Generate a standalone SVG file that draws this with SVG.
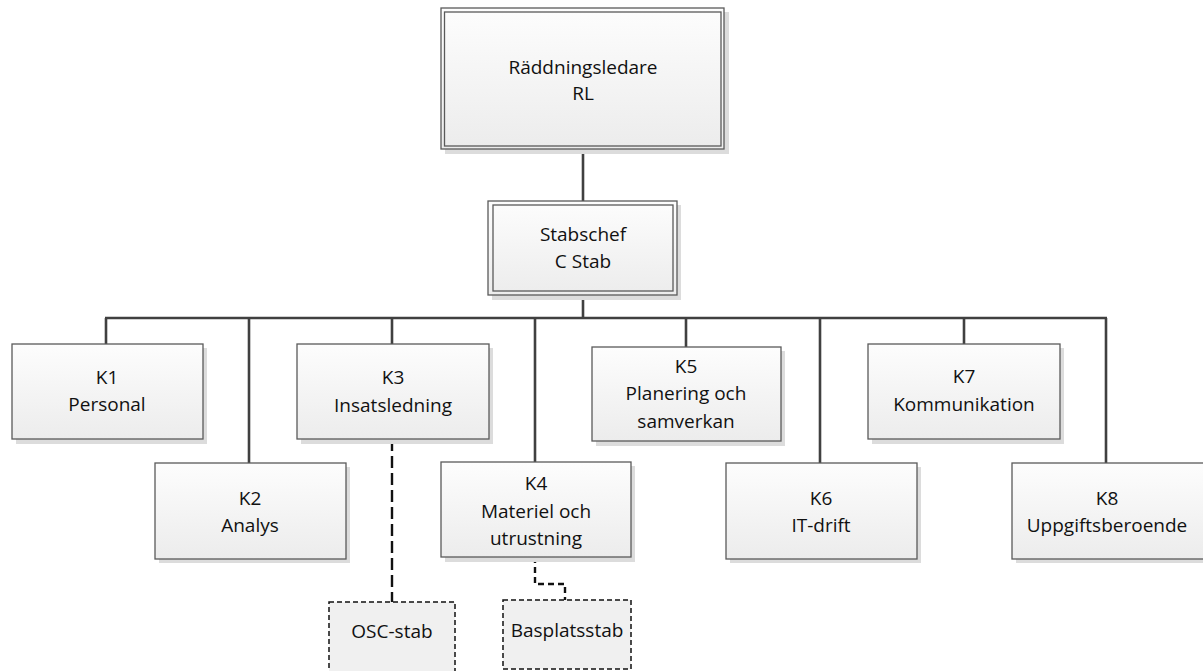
<svg xmlns="http://www.w3.org/2000/svg" width="1203" height="671" viewBox="0 0 1203 671">
<defs>
<linearGradient id="g" x1="0" y1="0" x2="0" y2="1">
<stop offset="0" stop-color="#fdfdfd"/>
<stop offset="1" stop-color="#ececec"/>
</linearGradient>
</defs>
<style>
.sh{fill:#dcdcdc}
.box{fill:url(#g);stroke:#5a5a5a;stroke-width:1.3}
.in{fill:none;stroke:#5a5a5a;stroke-width:1.3}
.dbox{fill:#f0f0f0;stroke:#111;stroke-width:1.5;stroke-dasharray:5 3}
.ln{stroke:#404040;stroke-width:2.6;fill:none}
.dl{stroke:#111;stroke-width:2.4;fill:none}
text{font-family:"Open Sans","Noto Sans",sans-serif;font-size:19px;fill:#111;text-anchor:middle}
</style>
<rect width="1203" height="671" fill="#fff"/>
<g id="connectors">
<line class="ln" x1="583" y1="149" x2="583" y2="201"/>
<line class="ln" x1="583" y1="295" x2="583" y2="318"/>
<line class="ln" x1="105" y1="318" x2="1107" y2="318" stroke-width="3"/>
<line class="ln" x1="106" y1="318" x2="106" y2="344"/>
<line class="ln" x1="249" y1="318" x2="249" y2="463"/>
<line class="ln" x1="392" y1="318" x2="392" y2="344"/>
<line class="ln" x1="535" y1="318" x2="535" y2="462"/>
<line class="ln" x1="686" y1="318" x2="686" y2="347"/>
<line class="ln" x1="820" y1="318" x2="820" y2="463"/>
<line class="ln" x1="964" y1="318" x2="964" y2="344" stroke-width="4"/>
<line class="ln" x1="1106" y1="318" x2="1106" y2="463"/>
<line class="dl" x1="392" y1="439" x2="392" y2="602" stroke-dasharray="12 5"/>
<polyline class="dl" points="535,557 535,584 565,584 565,600" stroke-dasharray="6 4"/>
</g>
<g id="RL">
<rect class="sh" x="445" y="12" width="284" height="142"/>
<rect class="box" x="441" y="8" width="283" height="141"/>
<rect class="in" x="444.5" y="12" width="276.5" height="134"/>
<text x="583" y="74">Räddningsledare</text>
<text x="583" y="100">RL</text>
</g>
<g id="Stabschef">
<rect class="sh" x="492" y="205" width="189" height="95"/>
<rect class="box" x="488" y="201" width="189" height="94"/>
<rect class="in" x="493" y="205" width="180" height="86"/>
<text x="583" y="241">Stabschef</text>
<text x="583" y="268">C Stab</text>
</g>
<g id="K1">
<rect class="sh" x="16" y="348" width="191" height="96"/>
<rect class="box" x="12" y="344" width="191" height="95"/>
<text x="107" y="384">K1</text>
<text x="107" y="411">Personal</text>
</g>
<g id="K2">
<rect class="sh" x="159" y="467" width="191" height="96"/>
<rect class="box" x="155" y="463" width="191" height="96"/>
<text x="250" y="505">K2</text>
<text x="250" y="532">Analys</text>
</g>
<g id="K3">
<rect class="sh" x="301" y="348" width="192" height="96"/>
<rect class="box" x="297" y="344" width="192" height="95"/>
<text x="393" y="384">K3</text>
<text x="393" y="412">Insatsledning</text>
</g>
<g id="K4">
<rect class="sh" x="445" y="466" width="190" height="96"/>
<rect class="box" x="441" y="462" width="190" height="95"/>
<text x="536" y="490">K4</text>
<text x="536" y="518">Materiel och</text>
<text x="536" y="545">utrustning</text>
</g>
<g id="K5">
<rect class="sh" x="596" y="351" width="189" height="95"/>
<rect class="box" x="592" y="347" width="189" height="94"/>
<text x="686" y="373">K5</text>
<text x="686" y="400">Planering och</text>
<text x="686" y="428">samverkan</text>
</g>
<g id="K6">
<rect class="sh" x="730" y="467" width="191" height="96"/>
<rect class="box" x="726" y="463" width="191" height="96"/>
<text x="821" y="505">K6</text>
<text x="821" y="532">IT-drift</text>
</g>
<g id="K7">
<rect class="sh" x="872" y="348" width="192" height="96"/>
<rect class="box" x="868" y="344" width="192" height="95"/>
<text x="964" y="383">K7</text>
<text x="964" y="411">Kommunikation</text>
</g>
<g id="K8">
<rect class="sh" x="1016" y="467" width="191" height="96"/>
<rect class="box" x="1012" y="463" width="192" height="96"/>
<text x="1107" y="505">K8</text>
<text x="1107" y="532">Uppgiftsberoende</text>
</g>
<g id="OSC-stab">
<rect class="dbox" x="329" y="602" width="126" height="75"/>
<text x="392" y="638">OSC-stab</text>
</g>
<g id="Basplatsstab">
<rect class="dbox" x="503" y="600" width="128" height="69"/>
<text x="567" y="637">Basplatsstab</text>
</g>
</svg>
